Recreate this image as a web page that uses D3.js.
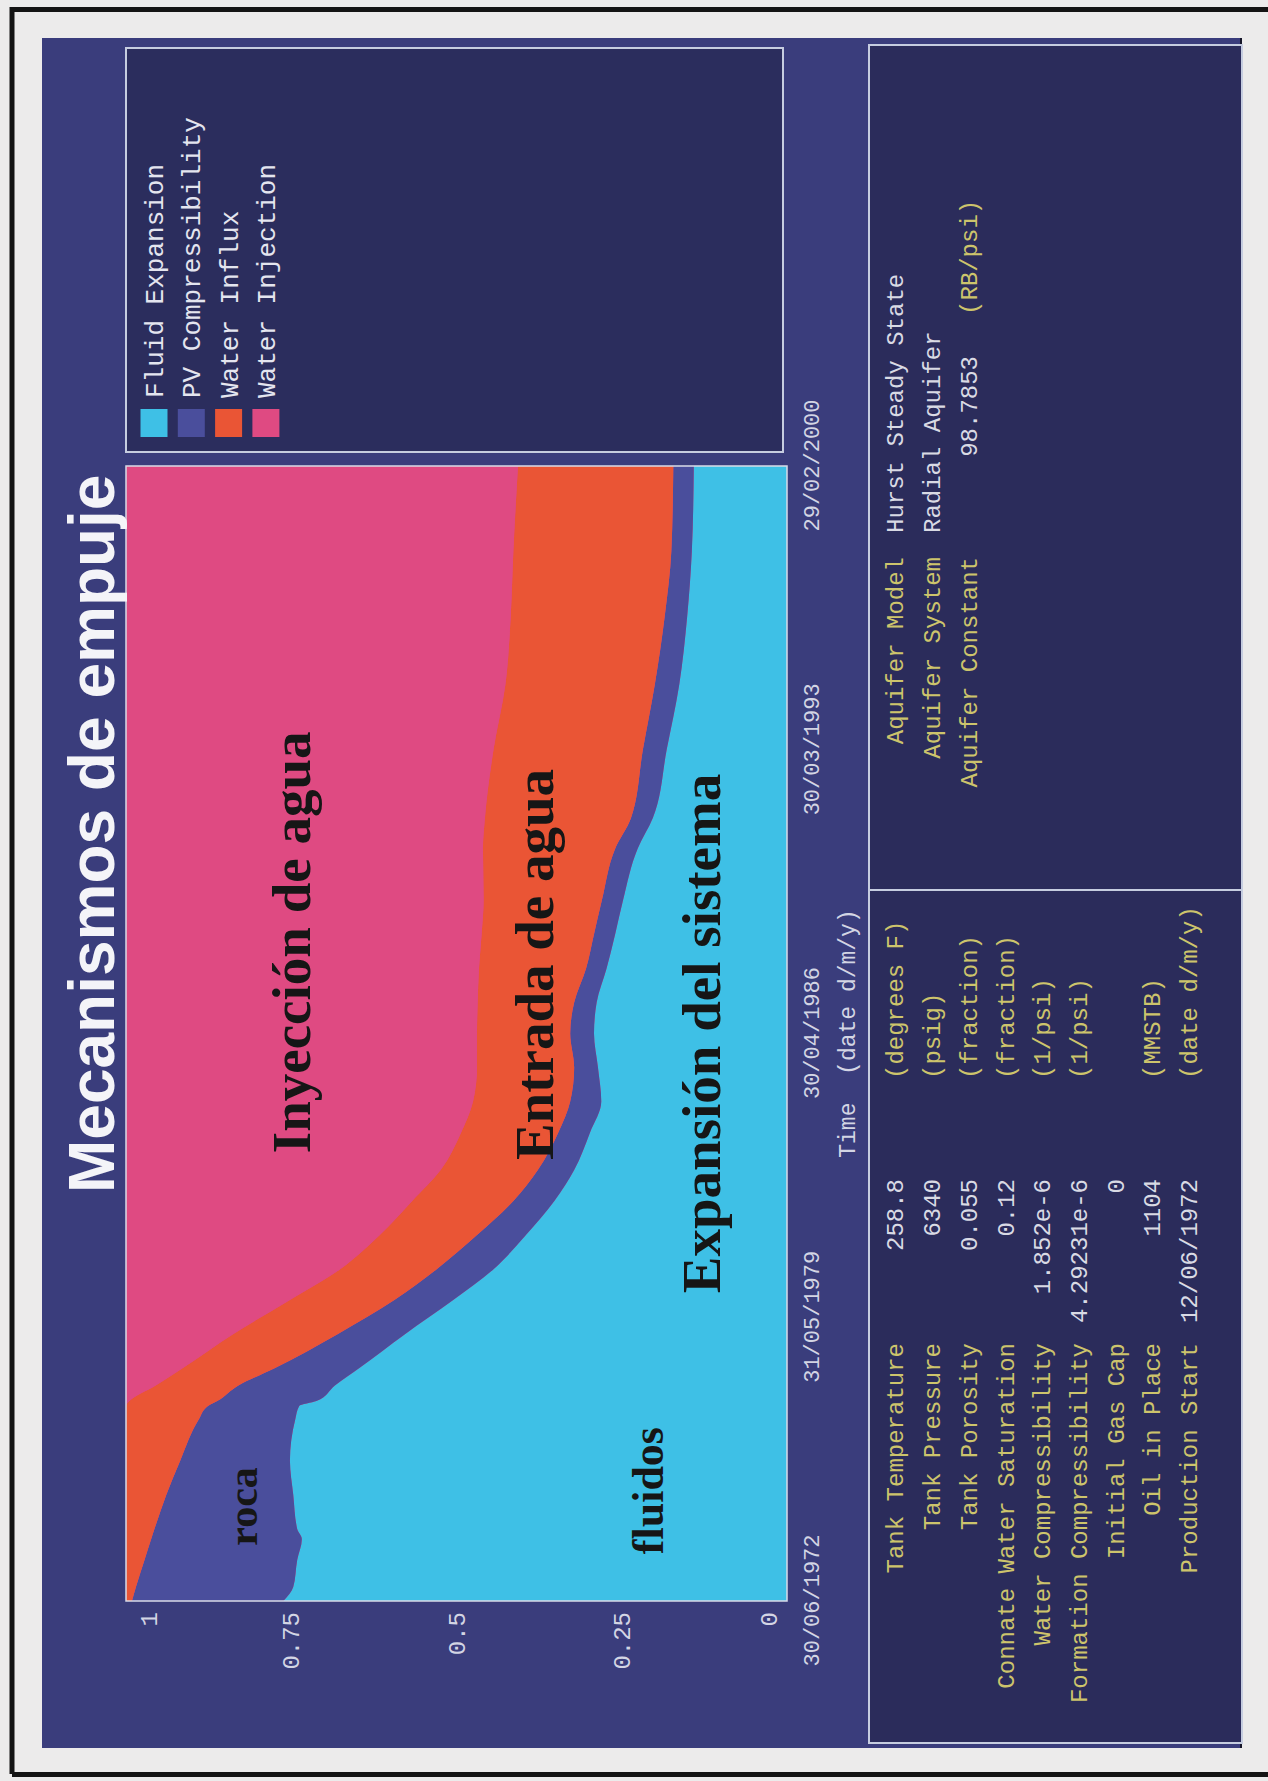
<!DOCTYPE html>
<html>
<head>
<meta charset="utf-8">
<script src="https://cdn.jsdelivr.net/npm/d3@7"></script>
<style>
  html, body { margin: 0; padding: 0; background: #ebeaea; }
  svg { display: block; }
</style>
</head>
<body>
<svg id="chart" width="1268" height="1781"></svg>
<script>
// ---- data -------------------------------------------------------------
const dates = [
  "1972-06-30","1972-11-01","1973-07-01","1974-01-01","1974-04-01","1975-02-01",
  "1975-12-01","1976-12-01","1977-04-01","1977-05-15","1977-10-01","1978-03-01",
  "1979-01-01","1979-11-01","1980-08-01","1981-06-01","1982-04-01","1983-01-01",
  "1983-12-01","1984-09-01","1985-07-01","1986-05-01","1987-02-01","1987-12-01",
  "1988-10-01","1989-08-01","1990-11-01","1991-08-01","1993-04-01","1994-11-01",
  "1996-07-01","1998-02-01","2000-02-29"
];
// fraction of the drive supplied by each mechanism
const fluidExpansion = [
  0.762,0.747,0.741,0.734,0.741,0.747,0.752,0.744,0.738,0.712,0.684,0.648,
  0.578,0.505,0.444,0.395,0.352,0.322,0.298,0.281,0.286,0.292,0.288,0.273,
  0.260,0.248,0.226,0.203,0.182,0.163,0.151,0.144,0.141
];
const pvCompressibility = [
  0.229,0.238,0.231,0.228,0.216,0.192,0.166,0.146,0.138,0.150,0.146,0.128,
  0.102,0.089,0.086,0.074,0.062,0.055,0.048,0.047,0.036,0.036,0.034,0.031,
  0.032,0.032,0.034,0.033,0.036,0.037,0.034,0.031,0.031
];
const waterInflux = [
  0.009,0.015,0.028,0.038,0.043,0.061,0.082,0.110,0.124,0.133,0.125,0.139,
  0.158,0.158,0.146,0.147,0.153,0.147,0.147,0.147,0.147,0.141,0.146,0.162,
  0.170,0.179,0.200,0.221,0.226,0.226,0.233,0.239,0.235
];
const waterInjection = [
  0.000,0.000,0.000,0.000,0.000,0.000,0.000,0.000,0.000,0.005,0.045,0.085,
  0.162,0.248,0.324,0.384,0.433,0.476,0.507,0.525,0.531,0.531,0.532,0.534,
  0.538,0.541,0.540,0.543,0.556,0.574,0.582,0.586,0.593
];

const seriesKeys   = ["fluid", "pv", "influx", "injection"];
const seriesNames  = ["Fluid Expansion", "PV Compressibility", "Water Influx", "Water Injection"];
const seriesColors = ["#3ec0e6", "#4a4e9c", "#ea5535", "#df4a82"];

const yTickValues = [0, 0.25, 0.5, 0.75, 1];
const xTickDates  = ["1972-06-30", "1979-05-31", "1986-04-30", "1993-03-30", "2000-02-29"];
const xAxisTitle  = "Time  (date d/m/y)";
const chartTitle  = "Mecanismos de empuje";

const tankLabels = ["Tank Temperature", "Tank Pressure", "Tank Porosity", "Connate Water Saturation",
                    "Water Compressibility", "Formation Compressibility", "Initial Gas Cap",
                    "Oil in Place", "Production Start"];
const tankValues = ["258.8", "6340", "0.055", "0.12", "1.852e-6", "4.29231e-6", "0", "1104", "12/06/1972"];
const tankUnits  = ["(degrees F)", "(psig)", "(fraction)", "(fraction)", "(1/psi)", "(1/psi)", "",
                    "(MMSTB)", "(date d/m/y)"];

const aquiferLabels = ["Aquifer Model", "Aquifer System", "Aquifer Constant"];
const aquiferValues = ["Hurst Steady State", "Radial Aquifer", "98.7853"];
const aquiferUnits  = ["", "", "(RB/psi)"];

// region names written over the areas, anchored in data units (date, fraction)
const areaLabelText  = ["roca", "fluidos", "Inyección de agua", "Entrada de agua", "Expansión del sistema"];
const areaLabelDate  = ["1974-10-20", "1975-03-10", "1988-07-20", "1988-01-05", "1986-05-01"];
const areaLabelValue = [0.802, 0.188, 0.722, 0.354, 0.101];

// ---- drawing --------------------------------------------------------------
const PAGE_W = 1268, PAGE_H = 1781;
const svg = d3.select("#chart");
const MONO = "'Liberation Mono', 'Courier New', monospace";

// paper and the printed frame
svg.append("rect").attr("width", PAGE_W).attr("height", PAGE_H).attr("fill", "#ecebeb");
svg.append("path")
  .attr("d", `M12,1774 V9.5 H${PAGE_W}`)
  .attr("fill", "none").attr("stroke", "#141414").attr("stroke-width", 5);
svg.append("path")
  .attr("d", `M12,1774.5 H${PAGE_W}`)
  .attr("fill", "none").attr("stroke", "#141414").attr("stroke-width", 5);

// the sheet is laid out landscape and turned a quarter turn anticlockwise
const g = svg.append("g").attr("transform", `translate(0,${PAGE_H}) rotate(-90)`);

// navy background panel
g.append("rect").attr("x", 33).attr("y", 42).attr("width", 1710).attr("height", 1199)
  .attr("fill", "#3a3d7c");
g.append("line").attr("x1", 33).attr("x2", 1743).attr("y1", 1241).attr("y2", 1241)
  .attr("stroke", "#16162a").attr("stroke-width", 2);

// scales
const parse = d3.timeParse("%Y-%m-%d");
const x = d3.scaleTime()
  .domain([parse("1972-06-30"), parse("2000-02-29")])
  .range([180, 1315]);
const y = d3.scaleLinear().domain([0, 1]).range([787, 126]);

// stacked areas
const table = dates.map((d, i) => ({
  date: parse(d),
  fluid: fluidExpansion[i],
  pv: pvCompressibility[i],
  influx: waterInflux[i],
  injection: waterInjection[i]
}));
const layers = d3.stack().keys(seriesKeys)(table);

g.append("clipPath").attr("id", "plotClip")
  .append("rect").attr("x", 180).attr("y", 126).attr("width", 1135).attr("height", 661);

const area = d3.area()
  .x(d => x(d.data.date))
  .y0(d => y(d[0]))
  .y1(d => y(d[1]))
  .curve(d3.curveMonotoneX);

const plot = g.append("g").attr("clip-path", "url(#plotClip)");
plot.append("rect").attr("x", 180).attr("y", 126).attr("width", 1135).attr("height", 661)
  .attr("fill", seriesColors[3]);
plot.selectAll("path.layer").data(layers).join("path")
  .attr("class", "layer")
  .attr("d", area)
  .attr("fill", (d, i) => seriesColors[i]);

g.append("rect").attr("x", 180).attr("y", 126).attr("width", 1135).attr("height", 661)
  .attr("fill", "none").attr("stroke", "#d9dbe8").attr("stroke-width", 1.5);

// region names
g.append("g").selectAll("text").data(areaLabelText).join("text")
  .attr("x", (d, i) => x(parse(areaLabelDate[i])))
  .attr("y", (d, i) => y(areaLabelValue[i]))
  .attr("text-anchor", "middle")
  .attr("font-family", "'Liberation Serif', 'Times New Roman', serif")
  .attr("font-weight", "bold")
  .attr("font-size", (d, i) => i === 0 ? 42 : i === 1 ? 44 : 55)
  .attr("fill", "#161616")
  .text(d => d);

// y axis
const yAxis = d3.axisLeft(y).tickValues(yTickValues).tickFormat(d => String(d))
  .tickSize(0).tickPadding(11);
const yg = g.append("g").attr("transform", "translate(180,0)").call(yAxis);
yg.select(".domain").remove();
yg.selectAll("text")
  .attr("font-family", MONO).attr("font-size", 24).attr("fill", "#d3d5e4")
  .attr("dy", d => d === 1 ? "1.25em" : d === 0 ? "-0.45em" : "0.32em");

// x axis
const xAxis = d3.axisBottom(x).tickValues(xTickDates.map(parse))
  .tickFormat(d3.timeFormat("%d/%m/%Y")).tickSize(0).tickPadding(0);
const xg = g.append("g").attr("transform", "translate(0,787)").call(xAxis);
xg.select(".domain").remove();
xg.selectAll("text")
  .attr("font-family", MONO).attr("font-size", 22).attr("fill", "#d3d5e4")
  .attr("y", 24).attr("dy", "0.35em");

g.append("text")
  .attr("x", (x.range()[0] + x.range()[1]) / 2).attr("y", 847).attr("dy", "0.35em")
  .attr("text-anchor", "middle")
  .attr("font-family", MONO).attr("font-size", 23).attr("fill", "#d3d5e4")
  .style("white-space", "pre")
  .text(xAxisTitle);

// title
g.append("text")
  .attr("x", 588).attr("y", 114)
  .attr("font-family", "'Liberation Sans', Arial, sans-serif")
  .attr("font-weight", "bold").attr("font-size", 64)
  .attr("fill", "#f4f4f8")
  .text(chartTitle);

// legend box
g.append("rect").attr("x", 1329).attr("y", 126).attr("width", 404).attr("height", 657)
  .attr("fill", "#2b2d5d").attr("stroke", "#c6cde0").attr("stroke-width", 2);
const legendRow = d3.scaleLinear().domain([0, 1]).range([154, 191.3]);
const legend = g.append("g").selectAll("g").data(seriesNames).join("g")
  .attr("transform", (d, i) => `translate(0,${legendRow(i)})`);
legend.append("rect")
  .attr("x", 1344).attr("y", -13.5).attr("width", 28).attr("height", 27)
  .attr("fill", (d, i) => seriesColors[i]);
legend.append("text")
  .attr("x", 1383).attr("dy", "0.35em")
  .attr("font-family", MONO).attr("font-size", 26).attr("fill", "#e4e5ef")
  .text(d => d);

// reservoir data box
g.append("rect").attr("x", 38).attr("y", 869).attr("width", 1698).attr("height", 373)
  .attr("fill", "#2b2c5b").attr("stroke", "#c6cde0").attr("stroke-width", 2);
g.append("line").attr("x1", 891).attr("x2", 891).attr("y1", 869).attr("y2", 1242)
  .attr("stroke", "#c6cde0").attr("stroke-width", 2);

const infoRow = d3.scaleLinear().domain([0, 1]).range([895, 931.7]);
const YELLOW = "#cdc46c", PALE = "#d9dae4";

const tank = g.append("g").attr("font-family", MONO).attr("font-size", 24);
tank.selectAll("text.lab").data(tankLabels).join("text").attr("class", "lab")
  .attr("x", 438).attr("y", (d, i) => infoRow(i)).attr("dy", "0.35em")
  .attr("text-anchor", "end").attr("fill", YELLOW).text(d => d);
tank.selectAll("text.val").data(tankValues).join("text").attr("class", "val")
  .attr("x", 602).attr("y", (d, i) => infoRow(i)).attr("dy", "0.35em")
  .attr("text-anchor", "end").attr("fill", PALE).text(d => d);
tank.selectAll("text.unit").data(tankUnits).join("text").attr("class", "unit")
  .attr("x", 702).attr("y", (d, i) => infoRow(i)).attr("dy", "0.35em")
  .attr("fill", YELLOW).text(d => d);

const aq = g.append("g").attr("font-family", MONO).attr("font-size", 24);
aq.selectAll("text.lab").data(aquiferLabels).join("text").attr("class", "lab")
  .attr("x", 1224).attr("y", (d, i) => infoRow(i)).attr("dy", "0.35em")
  .attr("text-anchor", "end").attr("fill", YELLOW).text(d => d);
aq.selectAll("text.val").data(aquiferValues).join("text").attr("class", "val")
  .attr("x", d => isNaN(+d) ? 1248 : 1425)
  .attr("y", (d, i) => infoRow(i)).attr("dy", "0.35em")
  .attr("text-anchor", d => isNaN(+d) ? "start" : "end")
  .attr("fill", PALE).text(d => d);
aq.selectAll("text.unit").data(aquiferUnits).join("text").attr("class", "unit")
  .attr("x", 1466).attr("y", (d, i) => infoRow(i)).attr("dy", "0.35em")
  .attr("fill", YELLOW).text(d => d);
</script>
</body>
</html>
